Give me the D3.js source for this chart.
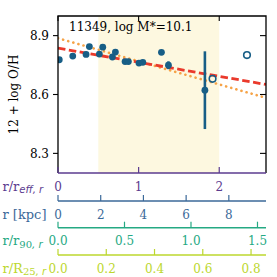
<!DOCTYPE html>
<html>
<head>
<meta charset="utf-8">
<script src="https://cdn.jsdelivr.net/npm/d3@7"></script>
<style>
  body { margin: 0; background: #fff; }
  svg { display: block; font-family: 'DejaVu Serif', serif; }
</style>
</head>
<body>
<div id="chart"></div>
<script>
// Data
const titleText = '11349, log M*=10.1';
const radius = [0.016, 0.183, 0.348, 0.389, 0.513, 0.555, 0.675, 0.712, 0.832, 0.873, 1.004, 1.052, 1.283, 1.370, 1.822];
const oh = [8.777, 8.796, 8.804, 8.844, 8.806, 8.841, 8.791, 8.816, 8.768, 8.768, 8.760, 8.764, 8.815, 8.749, 8.622];
const ohErr = [0, 0, 0, 0, 0, 0, 0, 0, 0, 0, 0, 0, 0, 0.02, 0.198];
const openRadius = [1.917, 2.344];
const openOh = [8.680, 8.801];
// fit lines: [r, O/H] at both ends
const fitDashed = [[0, 8.836], [2.58, 8.651]];
const fitDotted = [[0, 8.887], [2.58, 8.583]];
const shadeRange = [0.5, 2.0];
const yTicks = [8.3, 8.6, 8.9];

// secondary radius axes
const radAxes = [
  { main: 'r/r', sub: 'eff, r', subItalic: true, max: 2.58, ticks: [0, 1, 2], fmt: d3.format('d'), color: '#5b3b8f' },
  { main: 'r [kpc]', sub: '', max: 9.74, ticks: [0, 2, 4, 6, 8], fmt: d3.format('d'), color: '#3b6999' },
  { main: 'r/r', sub: '90', sub2: ', r', max: 1.564, ticks: [0, 0.5, 1.0, 1.5], fmt: d3.format('.1f'), color: '#25a983' },
  { main: 'r/R', sub: '25', sub2: ', r', max: 0.862, ticks: [0, 0.2, 0.4, 0.6, 0.8], fmt: d3.format('.1f'), color: '#bcd72e' }
];

const W = 277, H = 277;
const box = { left: 58, right: 266, top: 16, bottom: 173 };
const colors = { point: '#175e86', red: '#ea3a2c', orange: '#f6a347', shade: '#fdf8e0' };

const svg = d3.select('#chart').append('svg')
  .attr('width', W).attr('height', H);

const x = d3.scaleLinear().domain([0, 2.58]).range([box.left, box.right]);
const y = d3.scaleLinear().domain([8.2, 9.0]).range([box.bottom, box.top]);

// shaded band
svg.append('rect')
  .attr('x', x(shadeRange[0])).attr('y', box.top)
  .attr('width', x(shadeRange[1]) - x(shadeRange[0]))
  .attr('height', box.bottom - box.top)
  .attr('fill', colors.shade);

const clip = svg.append('defs').append('clipPath').attr('id', 'plot-clip');
clip.append('rect')
  .attr('x', box.left).attr('y', box.top)
  .attr('width', box.right - box.left).attr('height', box.bottom - box.top);

const g = svg.append('g').attr('clip-path', 'url(#plot-clip)');

const line = d3.line().x(d => x(d[0])).y(d => y(d[1]));

g.append('path')
  .datum(fitDotted)
  .attr('fill', 'none')
  .attr('stroke', colors.orange)
  .attr('stroke-width', 2.6)
  .attr('stroke-linecap', 'round')
  .attr('stroke-dasharray', '0.1,5.2')
  .attr('d', line);

g.append('path')
  .datum(fitDashed)
  .attr('fill', 'none')
  .attr('stroke', colors.red)
  .attr('stroke-width', 2.8)
  .attr('stroke-dasharray', '7.5,3.5')
  .attr('d', line);

const pts = radius.map((r, i) => ({ r, v: oh[i], e: ohErr[i] }));

// error bars
g.selectAll('.err')
  .data(pts.filter(d => d.e > 0))
  .enter()
  .append('line')
  .attr('x1', d => x(d.r)).attr('x2', d => x(d.r))
  .attr('y1', d => y(d.v - d.e)).attr('y2', d => y(d.v + d.e))
  .attr('stroke', colors.point)
  .attr('stroke-width', 2.6);

g.selectAll('.pt')
  .data(pts)
  .enter()
  .append('circle')
  .attr('cx', d => x(d.r))
  .attr('cy', d => y(d.v))
  .attr('r', 3.4)
  .attr('fill', colors.point);

g.selectAll('.open')
  .data(openRadius.map((r, i) => ({ r, v: openOh[i] })))
  .enter()
  .append('circle')
  .attr('cx', d => x(d.r))
  .attr('cy', d => y(d.v))
  .attr('r', 3.3)
  .attr('fill', 'none')
  .attr('stroke', colors.point)
  .attr('stroke-width', 1.6);

// frame (bottom spine is the r/reff axis)
svg.append('path')
  .attr('d', `M${box.left},${box.bottom}V${box.top}H${box.right}V${box.bottom}`)
  .attr('fill', 'none')
  .attr('stroke', '#000')
  .attr('stroke-width', 1.3);

// y ticks: out on the left, in on the right
yTicks.forEach(t => {
  svg.append('line')
    .attr('x1', box.left - 5).attr('x2', box.left)
    .attr('y1', y(t)).attr('y2', y(t))
    .attr('stroke', '#000').attr('stroke-width', 1.1);
  svg.append('line')
    .attr('x1', box.right - 6).attr('x2', box.right)
    .attr('y1', y(t)).attr('y2', y(t))
    .attr('stroke', '#000').attr('stroke-width', 1.1);
  svg.append('text')
    .attr('x', box.left - 9).attr('y', y(t) + 4.5)
    .attr('text-anchor', 'end')
    .attr('font-size', '12px')
    .attr('fill', '#000')
    .text(d3.format('.1f')(t));
});

// top ticks (inward)
radAxes[0].ticks.forEach(t => {
  svg.append('line')
    .attr('x1', x(t)).attr('x2', x(t))
    .attr('y1', box.top).attr('y2', box.top + 5)
    .attr('stroke', '#000').attr('stroke-width', 1.1);
});

svg.append('text')
  .attr('transform', `translate(14,${(box.top + box.bottom) / 2}) rotate(-90)`)
  .attr('text-anchor', 'middle')
  .attr('dy', '0.35em')
  .attr('font-size', '12px')
  .attr('fill', '#000')
  .text('12 + log O/H');

svg.append('text')
  .attr('x', 69).attr('y', 31)
  .attr('font-size', '12px')
  .attr('fill', '#000')
  .text(titleText);

// radius axes below the plot
const lineYs = [box.bottom, 201, 227.7, 255];
radAxes.forEach((a, i) => {
  const sx = d3.scaleLinear().domain([0, a.max]).range([box.left, box.right]);
  const ly = lineYs[i];
  const ax = svg.append('g').attr('transform', `translate(0,${ly})`);
  ax.append('line')
    .attr('x1', box.left).attr('x2', box.right)
    .attr('stroke', a.color).attr('stroke-width', 1.4);
  ax.selectAll('.tk')
    .data(a.ticks)
    .enter()
    .append('line')
    .attr('x1', d => sx(d)).attr('x2', d => sx(d))
    .attr('y1', 0).attr('y2', -6)
    .attr('stroke', a.color).attr('stroke-width', 1.2);
  ax.selectAll('.lb')
    .data(a.ticks)
    .enter()
    .append('text')
    .attr('x', d => sx(d))
    .attr('y', 17.5)
    .attr('text-anchor', 'middle')
    .attr('font-size', '12px')
    .attr('fill', a.color)
    .text(d => a.fmt(d));

  const lab = ax.append('text')
    .attr('x', 2.5).attr('y', 17.5)
    .attr('font-size', '13px')
    .attr('fill', a.color);
  lab.append('tspan').text(a.main);
  if (a.sub) {
    lab.append('tspan')
      .attr('dy', 2.5)
      .attr('font-size', '10px')
      .attr('font-family', a.subItalic ? "'DejaVu Sans', sans-serif" : null)
      .attr('font-style', a.subItalic ? 'italic' : 'normal')
      .text(a.sub);
    if (a.sub2) {
      lab.append('tspan')
        .attr('font-size', '10px')
        .attr('font-family', "'DejaVu Sans', sans-serif")
        .attr('font-style', 'italic')
        .text(a.sub2);
    }
  }
});
</script>
</body>
</html>
